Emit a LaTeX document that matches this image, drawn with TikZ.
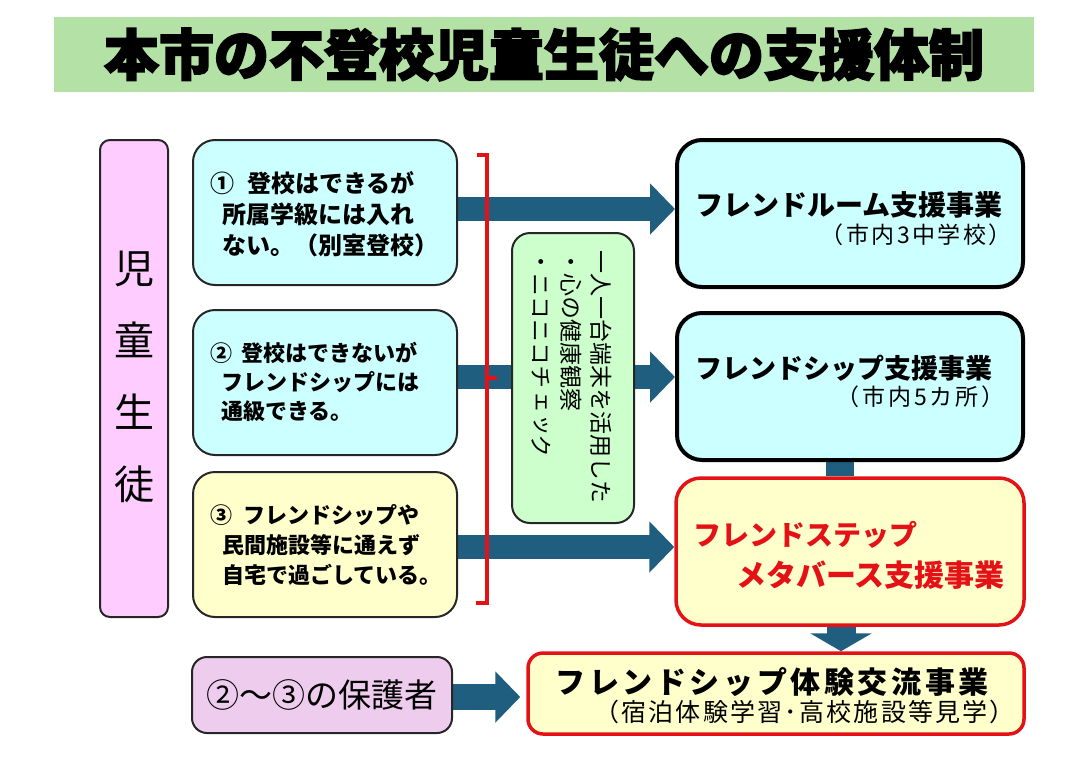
\documentclass[tikz,border=0pt]{standalone}
\usepackage{fontspec}
\usetikzlibrary{arrows.meta}
\setmainfont{Noto Sans CJK JP}
\newfontfamily\jp{Noto Sans CJK JP}
\newfontfamily\titlefont{Noto Sans CJK JP}[BoldFeatures={FakeBold=3}]
\newfontfamily\vfont{Noto Sans CJK JP}[Vertical=RotatedGlyphs]
\definecolor{titlegreen}{RGB}{180,226,166}
\definecolor{pinkA}{RGB}{255,204,255}
\definecolor{cyanA}{RGB}{204,255,255}
\definecolor{yellowA}{RGB}{255,255,204}
\definecolor{greenA}{RGB}{204,255,204}
\definecolor{mauve}{RGB}{238,204,238}
\definecolor{arrowblue}{RGB}{31,94,126}
\definecolor{redA}{RGB}{228,18,22}
\newcommand\ksp{\kern3.6pt}
\newcommand\ka{\kern2.5pt}
\newcommand\kb{\kern3pt}
\newcommand\kc{\kern2.2pt}
\pgfdeclarelayer{bg}
\pgfsetlayers{bg,main}
\begin{document}
\begin{tikzpicture}[x=1pt,y=-1pt,
  lbox/.style={draw=black!85, line width=2pt, rounded corners=22pt, inner sep=0pt, minimum width=264pt, minimum height=145pt},
  rbox/.style={draw=black, line width=4pt, rounded corners=25pt, inner sep=0pt, fill=cyanA, minimum width=346pt, minimum height=147pt},
  redbox/.style={draw=redA, line width=3.5pt, fill=yellowA, inner sep=0pt},
  btext/.style={anchor=west, align=left, inner sep=0pt},
  bigarr/.style={draw=arrowblue, line width=24pt, -{Triangle[length=25pt,width=50pt]}},
]
\useasboundingbox (0,0) rectangle (1089,771);
% title
\node[fill=titlegreen, minimum width=980pt, minimum height=75pt, inner sep=0pt,
      font=\titlefont\bfseries\fontsize{55}{60}\selectfont] (title) at (544,54.5) {本市の不登校児童生徒への支援体制};
% left tall box
\node[draw=black!85, line width=2pt, rounded corners=10pt, fill=pinkA, inner sep=0pt,
      minimum width=68pt, minimum height=477pt] (kids) at (134,378.5) {};
\node[align=center, inner sep=0pt, font=\fontsize{40}{72}\selectfont] (kidst) at (134,376.5) {児\\童\\生\\徒};
% left boxes
\node[lbox, fill=cyanA] (b1) at (325,212.5) {};
\node[btext, font=\bfseries\fontsize{24}{31}\selectfont] (b1t) at (222,214)
  {\hspace*{-12pt}①\hspace{13pt}登校はできるが\\所属学級には入れ\\ない。（別室登校）};
\node[lbox, fill=cyanA] (b2) at (325,382.5) {};
\node[btext, font=\bfseries\fontsize{22}{29}\selectfont] (b2t) at (221,382)
  {\hspace*{-11pt}②\hspace{9pt}登校はできないが\\フレンドシップには\\通級できる。};
\node[lbox, fill=yellowA] (b3) at (325,544.5) {};
\node[btext, font=\bfseries\fontsize{22}{30}\selectfont] (b3t) at (222,545)
  {\hspace*{-12pt}③\hspace{11pt}フレンドシップや\\民間施設等に通えず\\自宅で過ごしている。};
% right boxes
\node[rbox] (r1) at (850,213.5) {};
\node[anchor=west, inner sep=0pt, font=\bfseries\fontsize{28}{30}\selectfont] (r1t) at (695,205) {フレンドルーム支援事業};
\node[anchor=east, inner sep=0pt, font=\fontsize{23}{25}\selectfont] (r1s) at (1012,235) {（\ka 市\ka 内\ka 3\ka 中\ka 学\ka 校\ka ）};
\node[rbox] (r2) at (850,386.5) {};
\node[anchor=west, inner sep=0pt, font=\bfseries\fontsize{27}{30}\selectfont] (r2t) at (695,368) {フレンドシップ支援事業};
\node[anchor=east, inner sep=0pt, font=\fontsize{23}{25}\selectfont] (r2s) at (1005,397) {（\kb 市\kb 内\kb 5\kb カ\kb 所\kb ）};
\node[redbox, rounded corners=25pt, minimum width=348pt, minimum height=147pt] (r3) at (850,551.5) {};
\node[anchor=west, inner sep=0pt, text=redA, font=\bfseries\fontsize{28}{30}\selectfont] (r3t) at (693,535) {フレンドステップ};
\node[anchor=east, inner sep=0pt, text=redA, font=\bfseries\fontsize{30}{32}\selectfont] (r3s) at (1005,575) {メタバース支援事業};
\node[redbox, rounded corners=15pt, minimum width=496pt, minimum height=81pt] (r4) at (776,693.5) {};
\node[inner sep=0pt, font=\bfseries\fontsize{30}{32}\selectfont] (r4t) at (772,682)
  {フ\ksp レ\ksp ン\ksp ド\ksp シ\ksp ッ\ksp プ\ksp 体\ksp 験\ksp 交\ksp 流\ksp 事\ksp 業};
\node[anchor=east, inner sep=0pt, font=\fontsize{25}{27}\selectfont] (r4s) at (1015,712)
  {（\kc 宿\kc 泊\kc 体\kc 験\kc 学\kc 習\kc ･\kc 高\kc 校\kc 施\kc 設\kc 等\kc 見\kc 学\kc ）};
% guardians
\node[draw=black!85, line width=2pt, rounded corners=15pt, fill=mauve, inner sep=0pt,
      minimum width=260pt, minimum height=76pt, font=\fontsize{33}{35}\selectfont] (p2) at (322,695) {②～③の保護者};
% green vertical box
\node[draw=black!85, line width=2pt, rounded corners=18pt, fill=greenA, inner sep=0pt,
      minimum width=122pt, minimum height=290pt] (g) at (573,378) {};
\node[rotate=-90, anchor=north west, align=left, inner sep=0pt,
      font=\vfont\fontsize{23}{30}\selectfont] (gt) at (612,250)
  {一人一台端末を活用した\\・心の健康観察\\・ニコニコチェック};
% red bracket
\draw[redA, line width=4pt] (477,155) -- (487,155) -- (487,603) -- (476,603);
\draw[redA, line width=4pt] (487,378) -- (497,378);
% arrows (behind)
\begin{pgfonlayer}{bg}
\draw[bigarr] (b1.east |- 0,209) -- (r1.west |- 0,209);
\draw[bigarr] (b2.east |- 0,377) -- (r2.west |- 0,377);
\draw[bigarr] (b3.east |- 0,547) -- (r3.west |- 0,547);
\draw[draw=arrowblue, line width=28pt] (r2.south -| 840,0) -- (r3.north -| 840,0);
\draw[draw=arrowblue, line width=29pt, -{Triangle[length=18pt,width=61pt]}] (r3.south -| 841,0) -- (r4.north -| 841,0);
\draw[draw=arrowblue, line width=26pt, shorten >=6pt, -{Triangle[length=25pt,width=50pt]}] (p2.east |- 0,697) -- (r4.west |- 0,697);
\end{pgfonlayer}
\end{tikzpicture}
\end{document}
